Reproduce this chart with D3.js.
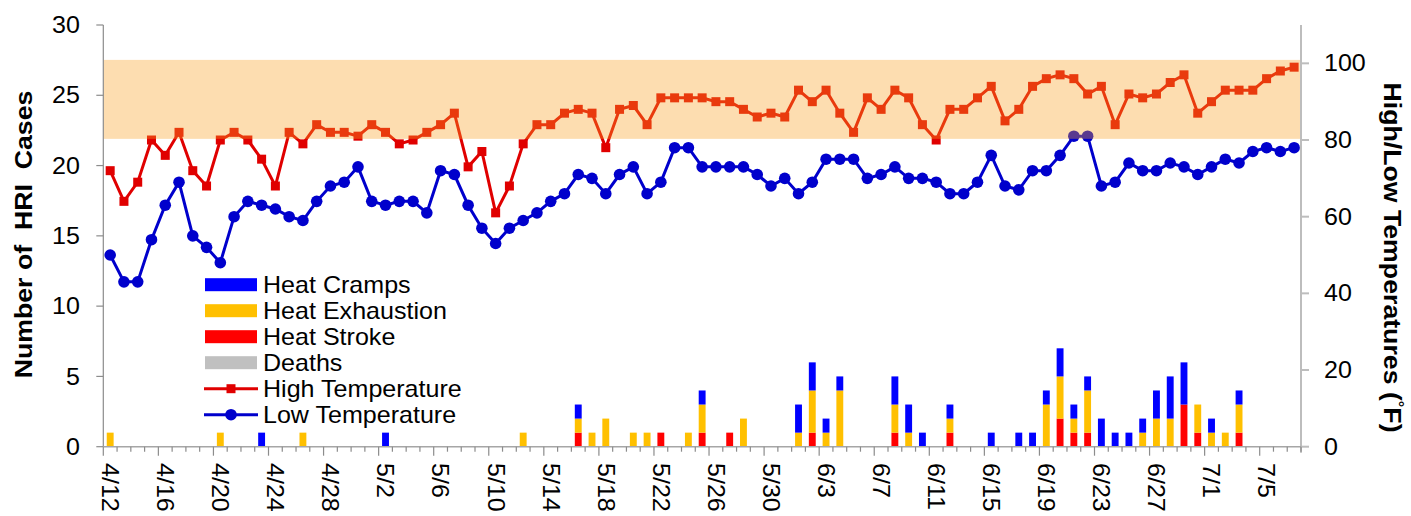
<!DOCTYPE html>
<html><head><meta charset="utf-8">
<script src="https://cdn.jsdelivr.net/npm/d3@7"></script>
<style>
body{margin:0;background:#fff}
svg{display:block}
text{font-family:Arial,"Liberation Sans",sans-serif;fill:#000;white-space:pre}
</style>
</head><body><svg id="chart" width="1411" height="516"></svg>
<script>
// ---- data ----
const dates = [
 "4/12","4/13","4/14","4/15","4/16","4/17","4/18","4/19","4/20","4/21","4/22","4/23","4/24","4/25","4/26","4/27","4/28","4/29","4/30",
 "5/1","5/2","5/3","5/4","5/5","5/6","5/7","5/8","5/9","5/10","5/11","5/12","5/13","5/14","5/15","5/16","5/17","5/18","5/19","5/20",
 "5/21","5/22","5/23","5/24","5/25","5/26","5/27","5/28","5/29","5/30","5/31",
 "6/1","6/2","6/3","6/4","6/5","6/6","6/7","6/8","6/9","6/10","6/11","6/12","6/13","6/14","6/15","6/16","6/17","6/18","6/19","6/20",
 "6/21","6/22","6/23","6/24","6/25","6/26","6/27","6/28","6/29","6/30",
 "7/1","7/2","7/3","7/4","7/5","7/6","7/7"];
const tickLabels = dates.filter((d,i)=>i%4===0);

const highTemp = [72,64,69,80,76,82,72,68,80,82, 80,75,68,82,79,84,82,82,81,84,
 82,79,80,82,84,87,73,77,61,68, 79,84,84,87,88,87,78,88,89,84,
 91,91,91,91,90,90,88,86,87,86, 93,90,93,87,82,91,88,93,91,84,
 80,88,88,91,94,85,88,94,96,97, 96,92,94,84,92,91,92,95,97,87,
 90,93,93,93,96,98,99];
const lowTemp = [50,43,43,54,63,69,55,52,48,60, 64,63,62,60,59,64,68,69,73,64,
 63,64,64,61,72,71,63,57,53,57, 59,61,64,66,71,70,66,71,73,66,
 69,78,78,73,73,73,73,71,68,70, 66,69,75,75,75,70,71,73,70,70,
 69,66,66,69,76,68,67,72,72,76, 81,81,68,69,74,72,72,74,73,71,
 73,75,74,77,78,77,78];

const heatStroke = [0,0,0,0,0,0,0,0,0,0, 0,0,0,0,0,0,0,0,0,0,
 0,0,0,0,0,0,0,0,0,0, 0,0,0,0,1,0,0,0,0,0,
 1,0,0,1,0,1,0,0,0,0, 0,1,0,0,0,0,0,1,0,0,
 0,1,0,0,0,0,0,0,0,2, 1,1,0,0,0,0,0,0,3,1,
 0,0,1,0,0,0,0];
const heatExhaustion = [1,0,0,0,0,0,0,0,1,0, 0,0,0,0,1,0,0,0,0,0,
 0,0,0,0,0,0,0,0,0,0, 1,0,0,0,1,1,2,0,1,1,
 0,0,1,2,0,0,2,0,0,0, 1,3,1,4,0,0,0,2,1,0,
 0,1,0,0,0,0,0,0,3,3, 1,3,0,0,0,1,2,2,0,2,
 1,1,2,0,0,0,0];
const heatCramps = [0,0,0,0,0,0,0,0,0,0, 0,1,0,0,0,0,0,0,0,0,
 1,0,0,0,0,0,0,0,0,0, 0,0,0,0,1,0,0,0,0,0,
 0,0,0,1,0,0,0,0,0,0, 2,2,1,1,0,0,0,2,2,1,
 0,1,0,0,1,0,1,1,1,2, 1,1,2,1,1,1,2,3,3,0,
 1,0,1,0,0,0,0];
const deaths = dates.map(()=>0);

const leftTicks = [0,5,10,15,20,25,30];
const rightTicks = [0,20,40,60,80,100];
const bandRange = [80.3,100.9];

const seriesNames = ["Heat Cramps","Heat Exhaustion","Heat Stroke","Deaths","High Temperature","Low Temperature"];
const barColors = {stroke:"#FF0000", exhaustion:"#FFC000", cramps:"#0000FF", deaths:"#C0C0C0"};
const highColor = "#E00000", lowColor = "#0000CC";

// ---- layout ----
const svg = d3.select("#chart");
const P = {left:103.3, right:1301, top:25, bottom:446.7};
const x = d3.scaleBand().domain(dates).range([P.left,P.right]).padding(0);
const yL = d3.scaleLinear().domain([0,30]).range([P.bottom,P.top]);
const yR = d3.scaleLinear().domain([0,110]).range([P.bottom,P.top]);
const cx = d => x(d)+x.bandwidth()/2;
const SX = 1.09;

function label(g, px, py, str, o={}){
  const t = g.append("text")
    .attr("transform",`translate(${px},${py}) rotate(${o.rot||0}) scale(${o.sx||SX},1)`)
    .attr("text-anchor",o.anchor||"start")
    .attr("dominant-baseline","central")
    .style("font-size",(o.size||23)+"px")
    .style("font-weight",o.weight||"normal");
  if(str!==null) t.text(str);
  return t;
}

// ---- bars ----
const table = dates.map((d,i)=>({date:d, stroke:heatStroke[i], exhaustion:heatExhaustion[i], cramps:heatCramps[i], deaths:deaths[i]}));
const stack = d3.stack().keys(["stroke","exhaustion","cramps","deaths"])(table);
const bw = x.bandwidth()*0.5;
svg.append("g").selectAll("g").data(stack).join("g")
  .attr("fill",s=>barColors[s.key])
  .selectAll("rect").data(s=>s.filter(p=>p[1]-p[0]>0)).join("rect")
  .attr("x",p=>cx(p.data.date)-bw/2).attr("width",bw)
  .attr("y",p=>yL(p[1])).attr("height",p=>yL(p[0])-yL(p[1]));

// ---- lines ----
const line = d3.line().x((v,i)=>cx(dates[i])).y(v=>yR(v));
svg.append("path").attr("d",line(highTemp)).attr("fill","none").attr("stroke",highColor).attr("stroke-width",3);
svg.append("g").selectAll("rect").data(highTemp).join("rect")
  .attr("x",(v,i)=>cx(dates[i])-4.5).attr("y",v=>yR(v)-4.5).attr("width",9).attr("height",9).attr("fill",highColor);
svg.append("path").attr("d",line(lowTemp)).attr("fill","none").attr("stroke",lowColor).attr("stroke-width",3);
svg.append("g").selectAll("circle").data(lowTemp).join("circle")
  .attr("cx",(v,i)=>cx(dates[i])).attr("cy",v=>yR(v)).attr("r",5.8).attr("fill",lowColor);

// ---- heat band overlay ----
svg.append("rect").attr("x",P.left).attr("width",P.right-P.left)
  .attr("y",yR(bandRange[1])).attr("height",yR(bandRange[0])-yR(bandRange[1]))
  .attr("fill","#F9A223").attr("opacity",0.36);

// ---- axes ----
const ax = svg.append("g");
ax.append("line").attr("x1",P.left).attr("x2",P.left).attr("y1",P.top).attr("y2",P.bottom).attr("stroke","#8c8c8c").attr("stroke-width",1.2);
leftTicks.forEach(v=>{
  ax.append("line").attr("x1",P.left-7).attr("x2",P.left).attr("y1",yL(v)).attr("y2",yL(v)).attr("stroke","#8c8c8c").attr("stroke-width",1.2);
  label(ax,80,yL(v),String(v),{anchor:"end"});
});
ax.append("line").attr("x1",P.right).attr("x2",P.right).attr("y1",P.top).attr("y2",P.bottom+6).attr("stroke","#bdbdbd").attr("stroke-width",2);
rightTicks.forEach(v=>{
  ax.append("line").attr("x1",P.right).attr("x2",P.right+8).attr("y1",yR(v)).attr("y2",yR(v)).attr("stroke","#bdbdbd").attr("stroke-width",2);
  label(ax,1324,yR(v),String(v),{anchor:"start"});
});
ax.append("line").attr("x1",P.left).attr("x2",P.right).attr("y1",P.bottom).attr("y2",P.bottom).attr("stroke","#a6a6a6").attr("stroke-width",1.5);
d3.range(dates.length+1).forEach(k=>{
  const xx = P.left + k*x.bandwidth();
  ax.append("line").attr("x1",xx).attr("x2",xx).attr("y1",P.bottom).attr("y2",P.bottom+(k%4===0?9:5)).attr("stroke","#8c8c8c").attr("stroke-width",1.2);
});
tickLabels.forEach(d=>label(ax,cx(d),463,d,{rot:90,anchor:"start"}));

// titles
label(svg,23,234.5,"Number of  HRI  Cases",{rot:-90,anchor:"middle",weight:"bold",size:24.5});
const rt = label(svg,1393,257.5,null,{rot:90,anchor:"middle",weight:"bold",size:24.5});
rt.append("tspan").text("High/Low Temperatures (");
rt.append("tspan").text("°").style("font-size","15px").attr("dy",-6);
rt.append("tspan").text("F)").attr("dy",6);

// ---- legend ----
const lg = svg.append("g");
const ly0 = 284.7, lstep = 26;
const keysOrder = ["cramps","exhaustion","stroke","deaths"];
keysOrder.forEach((k,i)=>{
  lg.append("rect").attr("x",205).attr("y",ly0+i*lstep-6.5).attr("width",52).attr("height",13).attr("fill",barColors[k]);
});
[[highColor,"sq"],[lowColor,"ci"]].forEach(([c,t],j)=>{
  const yy = ly0+(4+j)*lstep;
  lg.append("line").attr("x1",204).attr("x2",258).attr("y1",yy).attr("y2",yy).attr("stroke",c).attr("stroke-width",3);
  if(t==="sq") lg.append("rect").attr("x",231-4.5).attr("y",yy-4.5).attr("width",9).attr("height",9).attr("fill",c);
  else lg.append("circle").attr("cx",231).attr("cy",yy).attr("r",5.8).attr("fill",c);
});
seriesNames.forEach((n,i)=>label(lg,263,ly0+i*lstep,n,{anchor:"start"}));
</script></body></html>
